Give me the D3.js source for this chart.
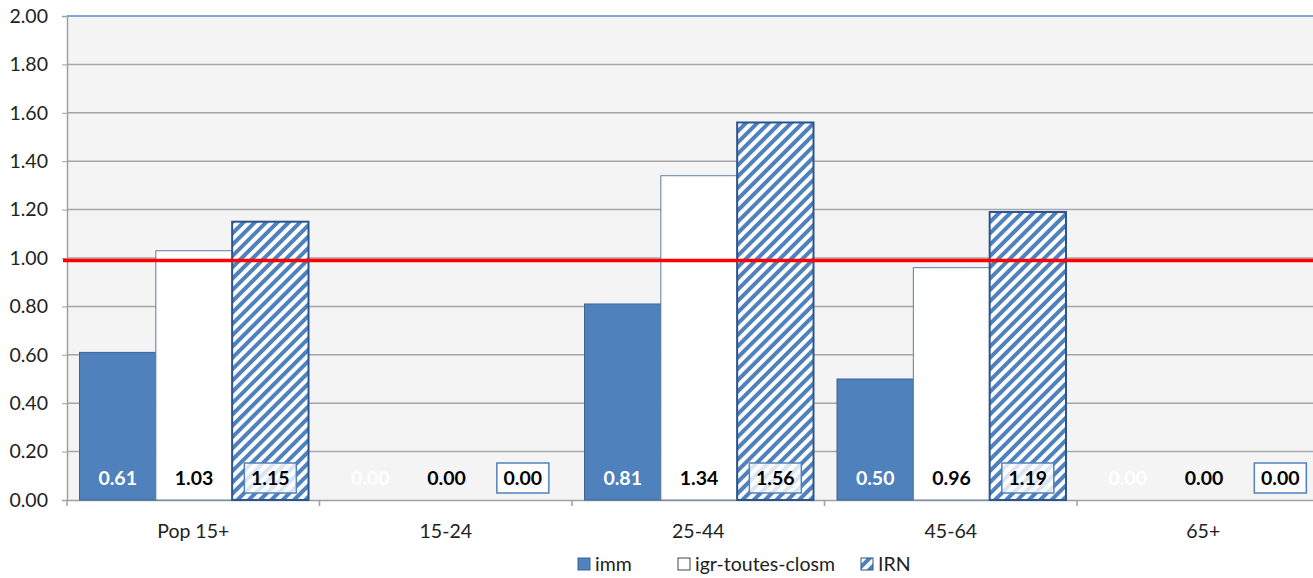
<!DOCTYPE html>
<html>
<head>
<meta charset="utf-8">
<script src="https://cdn.jsdelivr.net/npm/d3@7"></script>
<style>
  body { margin: 0; background: #fff; }
  text { font-family: Lato, "Open Sans", sans-serif; }
</style>
</head>
<body>
<div id="chart"></div>
<script>
// chart values
const categories = ["Pop 15+", "15-24", "25-44", "45-64", "65+"];
const seriesNames = ["imm", "igr-toutes-closm", "IRN"];
const imm = [0.61, 0.00, 0.81, 0.50, 0.00];
const igr = [1.03, 0.00, 1.34, 0.96, 0.00];
const irn = [1.15, 0.00, 1.56, 1.19, 0.00];
const refLine = 0.99;
const yTicks = [0, 0.2, 0.4, 0.6, 0.8, 1.0, 1.2, 1.4, 1.6, 1.8, 2.0];

const svgWidth = 1313;
const svgHeight = 578;
const margin = { top: 16, left: 67, bottom: 78 };
const plotRight = 67 + 5 * 252.5;  // plot area runs past the window edge
const height = svgHeight - margin.top - margin.bottom;

const svg = d3.select("#chart")
  .append("svg")
  .attr("width", svgWidth)
  .attr("height", svgHeight);

const defs = svg.append("defs");
const hatch = defs.append("pattern")
  .attr("id", "hatch")
  .attr("patternUnits", "userSpaceOnUse")
  .attr("width", 8)
  .attr("height", 8)
  .attr("patternTransform", "rotate(45)");
hatch.append("rect").attr("width", 8).attr("height", 8).attr("fill", "#fff");
hatch.append("rect").attr("width", 4).attr("height", 8).attr("fill", "#4f81bd");

const x0 = d3.scaleBand()
  .domain(categories)
  .range([margin.left, plotRight]);

const x1 = d3.scaleBand()
  .domain(seriesNames)
  .range([12.5, 241.5]);

const y = d3.scaleLinear()
  .domain([0, 2])
  .range([margin.top + height, margin.top]);

// plot background
svg.append("rect")
  .attr("x", margin.left)
  .attr("y", margin.top)
  .attr("width", plotRight - margin.left)
  .attr("height", height)
  .attr("fill", "#f4f4f4");

// gridlines
svg.append("g")
  .selectAll("line")
  .data(yTicks.filter(d => d > 0))
  .enter()
  .append("line")
  .attr("x1", margin.left)
  .attr("x2", plotRight)
  .attr("y1", d => y(d))
  .attr("y2", d => y(d))
  .attr("stroke", d => d === 2 ? "#5b8bd0" : "#a6a6a6")
  .attr("stroke-width", 1.5);

// y axis
const leftAxis = d3.axisLeft(y)
  .tickValues(yTicks)
  .tickFormat(d3.format(".2f"))
  .tickSize(5)
  .tickPadding(14);

const yAxis = svg.append("g")
  .attr("transform", `translate(${margin.left},0)`)
  .call(leftAxis);
yAxis.select(".domain").attr("stroke", "#a0a0a0").attr("stroke-width", 1.5);
yAxis.selectAll(".tick line").attr("stroke", "#a0a0a0");
yAxis.selectAll(".tick text")
  .style("font-size", "19.5px")
  .attr("fill", "#222");

// x axis
const bottomAxis = d3.axisBottom(x0).tickSize(0).tickPadding(24);
const xAxis = svg.append("g")
  .attr("transform", `translate(0,${y(0)})`)
  .call(bottomAxis);
xAxis.select(".domain").attr("stroke", "#a0a0a0").attr("stroke-width", 1.5);
xAxis.selectAll(".tick text")
  .style("font-size", "19.5px")
  .attr("fill", "#222");

// category separator ticks
svg.append("g")
  .selectAll("line")
  .data(categories)
  .enter()
  .append("line")
  .attr("x1", d => x0(d))
  .attr("x2", d => x0(d))
  .attr("y1", y(0))
  .attr("y2", y(0) + 6)
  .attr("stroke", "#a0a0a0")
  .attr("stroke-width", 1.5);

const rows = categories.map((c, i) => ({ cat: c, vals: [imm[i], igr[i], irn[i]] }));
const fills = ["#4f81bd", "#ffffff", "url(#hatch)"];
const strokes = ["#3b6496", "#5d7ba3", "#2c5490"];
const strokeW = [1, 1, 2];

const groups = svg.append("g")
  .selectAll("g")
  .data(rows)
  .enter()
  .append("g")
  .attr("transform", d => `translate(${x0(d.cat)},0)`);

groups.selectAll("rect")
  .data(d => d.vals.map((v, j) => ({ v: v, j: j })))
  .enter()
  .filter(d => d.v > 0)
  .append("rect")
  .attr("x", d => x1(seriesNames[d.j]))
  .attr("y", d => y(d.v))
  .attr("width", x1.bandwidth())
  .attr("height", d => y(0) - y(d.v))
  .attr("fill", d => fills[d.j])
  .attr("stroke", d => strokes[d.j])
  .attr("stroke-width", d => strokeW[d.j]);

// red reference line
svg.append("line")
  .attr("x1", margin.left - 4)
  .attr("x2", svgWidth)
  .attr("y1", y(refLine))
  .attr("y2", y(refLine))
  .attr("stroke", "#ff0000")
  .attr("stroke-width", 3.5);

// value labels
const labels = groups.selectAll("g.lbl")
  .data(d => d.vals.map((v, j) => ({ v: v, j: j })))
  .enter()
  .append("g")
  .attr("class", "lbl")
  .attr("transform", d => `translate(${x1(seriesNames[d.j]) + x1.bandwidth() / 2},${y(0) - 22})`);

labels.filter(d => d.j === 2)
  .append("rect")
  .attr("x", -26)
  .attr("y", -15)
  .attr("width", 52)
  .attr("height", 30)
  .attr("fill", "#ffffff")
  .attr("fill-opacity", 0.8)
  .attr("stroke", "#4f81bd")
  .attr("stroke-width", 1.5);

labels.append("text")
  .attr("text-anchor", "middle")
  .attr("dy", "0.36em")
  .style("font-size", "19.5px")
  .style("font-weight", "bold")
  .attr("fill", d => d.j === 0 ? "#ffffff" : "#000000")
  .text(d => d.v.toFixed(2));

// legend
const legendItems = [
  { name: seriesNames[0], x: 578, fill: fills[0], stroke: "#3b6496" },
  { name: seriesNames[1], x: 678, fill: fills[1], stroke: "#444" },
  { name: seriesNames[2], x: 861, fill: fills[2], stroke: "#2c5490" }
];
const legend = svg.append("g")
  .selectAll("g")
  .data(legendItems)
  .enter()
  .append("g")
  .attr("transform", d => `translate(${d.x},564)`);
legend.append("rect")
  .attr("x", 0)
  .attr("y", -6)
  .attr("width", 12)
  .attr("height", 12)
  .attr("fill", d => d.fill)
  .attr("stroke", d => d.stroke)
  .attr("stroke-width", 1);
legend.append("text")
  .attr("x", 17)
  .attr("dy", "0.36em")
  .style("font-size", "19.5px")
  .attr("fill", "#222")
  .text(d => d.name);
</script>
</body>
</html>
